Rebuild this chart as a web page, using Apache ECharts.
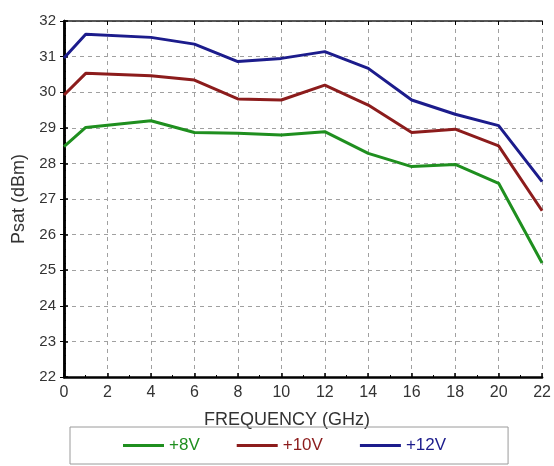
<!DOCTYPE html>
<html>
<head>
<meta charset="utf-8">
<script src="https://cdn.jsdelivr.net/npm/echarts@6/dist/echarts.min.js"></script>
<style>
  html, body { margin: 0; padding: 0; background: #fff; }
  #chart { width: 554px; height: 466px; }
</style>
</head>
<body>
<div id="chart"></div>
<script>
// Saturated output power vs frequency at three drain voltages
const frequencies = [0, 1, 4, 6, 8, 10, 12, 14, 16, 18, 20, 22];
const psat8V  = [28.47, 29.01, 29.20, 28.87, 28.85, 28.80, 28.89, 28.28, 27.91, 27.97, 27.44, 25.20];
const psat10V = [29.92, 30.53, 30.46, 30.34, 29.81, 29.78, 30.20, 29.64, 28.87, 28.96, 28.49, 26.67];
const psat12V = [30.96, 31.63, 31.54, 31.35, 30.86, 30.95, 31.14, 30.67, 29.78, 29.38, 29.06, 27.49];
const seriesNames = ['+8V', '+10V', '+12V'];
const seriesColors = ['#1f8f1f', '#8c1c1c', '#1c1c8c'];

const pairs = (ys) => frequencies.map((f, i) => [f, ys[i]]);
const font = 'Liberation Sans, Arial, sans-serif';

const chart = echarts.init(document.getElementById('chart'), null, { renderer: 'canvas' });

const gridLine = { show: true, lineStyle: { color: '#a0a0a0', type: [4, 4], width: 1 } };

chart.setOption({
  backgroundColor: '#ffffff',
  animation: false,
  grid: { left: 64, right: 11, top: 21, bottom: 89 },
  legend: {
    left: 70,
    top: 427,
    orient: 'horizontal',
    padding: [10, 62, 10, 53],
    borderColor: '#9a9a9a',
    borderWidth: 1,
    itemGap: 37,
    itemWidth: 41,
    itemHeight: 3,
    icon: 'rect',
    textStyle: { fontFamily: font, fontSize: 17 },
    data: seriesNames.map((n, i) => ({ name: n, textStyle: { color: seriesColors[i] } }))
  },
  xAxis: [
    {
      type: 'value',
      min: 0, max: 22, interval: 2,
      name: 'FREQUENCY (GHz)',
      nameLocation: 'middle',
      nameGap: 34,
      nameTextStyle: { fontFamily: font, fontSize: 18, color: '#333', padding: [0, 32, 0, 0] },
      axisLine: { lineStyle: { color: '#000', width: 2.5 } },
      axisTick: { inside: true, length: 4, lineStyle: { color: '#000', width: 1.5 } },
      minorTick: { show: true, splitNumber: 2, length: 2, lineStyle: { color: '#000' } },
      axisLabel: { fontFamily: font, fontSize: 16, color: '#333', margin: 8 },
      splitLine: gridLine
    },
    {
      type: 'value',
      position: 'top',
      min: 0, max: 22, interval: 2,
      axisLine: { show: true, lineStyle: { color: '#222', width: 1.5 } },
      axisTick: { show: true, inside: true, length: 4, lineStyle: { color: '#000' } },
      axisLabel: { show: false },
      splitLine: { show: false }
    }
  ],
  yAxis: [
    {
      type: 'value',
      min: 22, max: 32, interval: 1,
      name: 'Psat (dBm)',
      nameLocation: 'middle',
      nameGap: 24,
      nameRotate: 90,
      nameTextStyle: { fontFamily: font, fontSize: 18, color: '#333' },
      axisLine: { show: true, lineStyle: { color: '#000', width: 2.5 } },
      axisTick: { show: true, inside: true, length: 4, lineStyle: { color: '#000', width: 1.5 } },
      minorTick: { show: true, splitNumber: 5, length: 2, lineStyle: { color: '#000' } },
      axisLabel: { fontFamily: font, fontSize: 15, color: '#333', margin: 8 },
      splitLine: gridLine
    },
    {
      type: 'value',
      position: 'right',
      min: 22, max: 32, interval: 1,
      axisLine: { show: true, lineStyle: { color: '#000', width: 2.5 } },
      axisTick: { show: true, inside: true, length: 4, lineStyle: { color: '#000' } },
      axisLabel: { show: false },
      splitLine: { show: false }
    }
  ],
  series: [psat8V, psat10V, psat12V].map((ys, i) => ({
    name: seriesNames[i],
    type: 'line',
    xAxisIndex: 0,
    yAxisIndex: 0,
    data: pairs(ys),
    showSymbol: false,
    symbol: 'none',
    lineStyle: { color: seriesColors[i], width: 3 },
    itemStyle: { color: seriesColors[i] },
    z: 3
  }))
});
</script>
</body>
</html>
